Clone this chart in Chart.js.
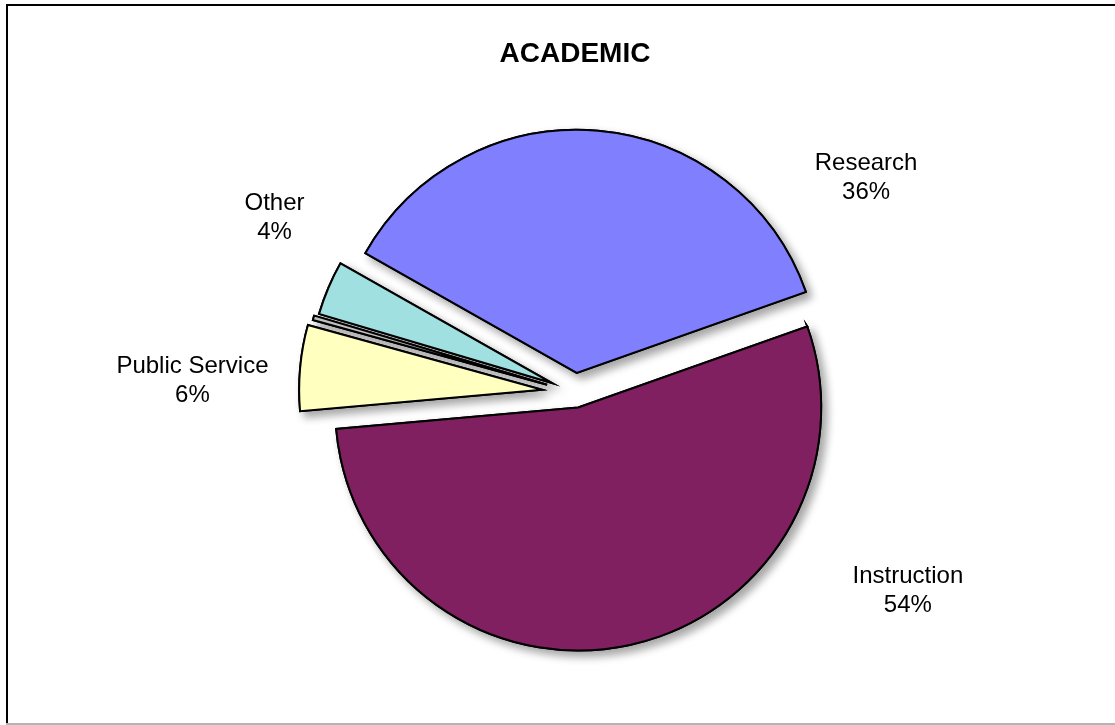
<!DOCTYPE html>
<html><head><meta charset="utf-8">
<script src="https://cdn.jsdelivr.net/npm/chart.js@4"></script>
<style>html,body{margin:0;padding:0;background:#fff;} canvas{display:block;}</style>
</head><body>
<canvas id="c" width="1115" height="725"></canvas>
<script>
// ---- data ----
const categories = ['Research', 'Instruction', 'Public Service', '', 'Other'];
const values = [36.4, 54.0, 5.7, 0.3, 3.6];
const chartTitle = 'ACADEMIC';

// ---- styles ----
const colors = ['#8080FF', '#802060', '#FFFFC0', '#C0C0C0', '#A0E0E0'];
const explode = [20, 15, 33, 29, 25];          // px each slice is pulled out
const labelFrac = [0.87, 0.258, 0.33, 0.5, 1.05];
const labelDist = [1.49, 1.593, 1.575, 1.5, 1.43];
const FONT = "'Liberation Sans', Arial, sans-serif";

const total = values.reduce((a, b) => a + b, 0);

const framePlugin = {
  id: 'frame',
  beforeDraw(chart) {
    const ctx = chart.ctx;
    ctx.save();
    ctx.fillStyle = '#fff';
    ctx.fillRect(0, 0, chart.width, chart.height);
    ctx.fillStyle = '#000';
    ctx.fillRect(6, 4, chart.width, 2);
    ctx.fillRect(6, 4, 2, chart.height);
    ctx.fillStyle = '#b4b4b4';
    ctx.fillRect(6, 723, chart.width, 2);
    ctx.restore();
  }
};

// draws the pie arcs pulled out from the centre, with a soft drop shadow
const explodePlugin = {
  id: 'explode',
  beforeDatasetsDraw(chart) {
    const ctx = chart.ctx;
    const meta = chart.getDatasetMeta(0);
    const drawAll = () => meta.data.forEach((arc, i) => {
      const p = arc.getProps(['startAngle', 'endAngle'], true);
      const h = (p.startAngle + p.endAngle) / 2;
      ctx.save();
      ctx.translate(Math.cos(h) * explode[i], Math.sin(h) * explode[i]);
      arc.draw(ctx);
      ctx.restore();
    });
    ctx.save();
    ctx.shadowColor = 'rgba(0,0,0,0.35)';
    ctx.shadowBlur = 9;
    ctx.shadowOffsetX = 5;
    ctx.shadowOffsetY = 5;
    drawAll();
    ctx.restore();
    drawAll();
    return false;
  }
};

const labelPlugin = {
  id: 'sliceLabels',
  afterDraw(chart) {
    const ctx = chart.ctx;
    const meta = chart.getDatasetMeta(0);
    ctx.save();
    ctx.fillStyle = '#000';
    ctx.font = '24px ' + FONT;
    ctx.textAlign = 'center';
    ctx.textBaseline = 'middle';
    meta.data.forEach((arc, i) => {
      if (!categories[i]) return;
      const p = arc.getProps(['x', 'y', 'startAngle', 'endAngle', 'outerRadius'], true);
      const a = p.startAngle + (p.endAngle - p.startAngle) * labelFrac[i];
      const r = p.outerRadius * labelDist[i];
      const x = p.x + Math.cos(a) * r;
      const y = p.y + Math.sin(a) * r;
      const pct = Math.round(values[i] / total * 100) + '%';
      ctx.fillText(categories[i], x, y - 14.5);
      ctx.fillText(pct, x, y + 14.5);
    });
    ctx.restore();
  }
};

new Chart(document.getElementById('c'), {
  type: 'pie',
  data: {
    labels: categories,
    datasets: [{
      data: values,
      backgroundColor: colors,
      borderColor: '#000',
      borderWidth: 2,
      borderJoinStyle: 'miter'
    }]
  },
  options: {
    responsive: false,
    animation: false,
    events: [],
    rotation: -60.5,
    radius: 243,
    layout: { padding: { left: 35, right: 0, top: 0, bottom: 10 } },
    plugins: {
      legend: { display: false },
      tooltip: { enabled: false },
      title: {
        display: true,
        text: chartTitle,
        color: '#000',
        font: { family: FONT, size: 28, weight: 'bold', lineHeight: 1.2 },
        padding: { top: 37, bottom: 0 }
      }
    }
  },
  plugins: [framePlugin, explodePlugin, labelPlugin]
});
</script>
</body></html>
